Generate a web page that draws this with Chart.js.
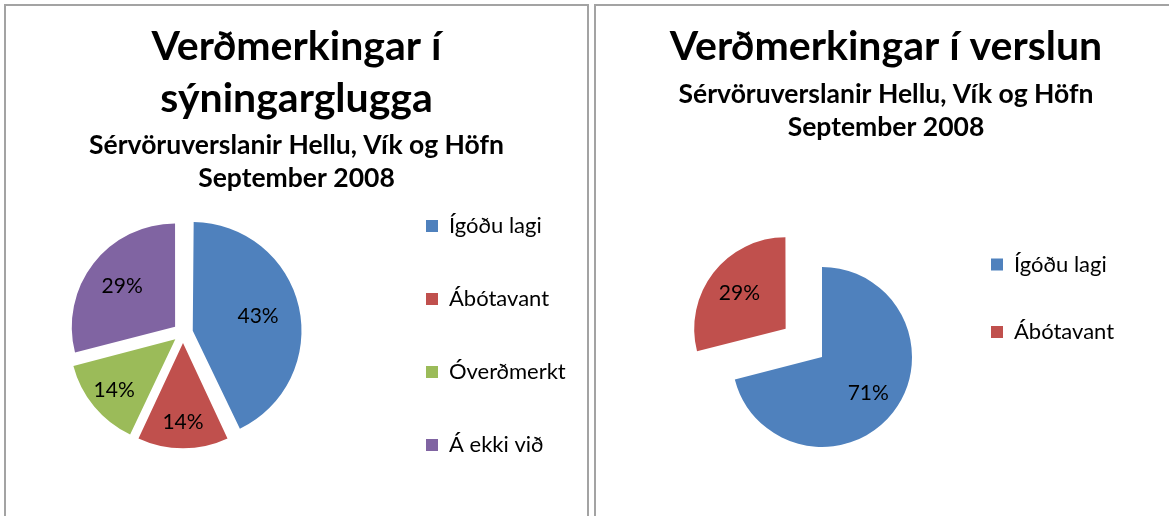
<!DOCTYPE html>
<html lang="is">
<head>
<meta charset="utf-8">
<title>Verðmerkingar</title>
<script src="https://cdn.jsdelivr.net/npm/chart.js@4.4.1/dist/chart.umd.min.js"></script>
<style>
  html, body { margin: 0; padding: 0; background: #fff; overflow: hidden; }
  body { width: 1169px; height: 516px; position: relative; }
  .panel { position: absolute; top: 4px; height: 540px; border: 2px solid #a3a3a3; overflow: hidden; background: #fff; }
  #p-left  { left: 4px; width: 581px; }
  #p-right { left: 594px; width: 620px; border-right: none; }
  .panel canvas { position: absolute; top: 0; }
  #windowChart { left: -15px; }
  #storeChart  { left: 0; }
</style>
</head>
<body>
<div class="panel" id="p-left"><canvas id="windowChart" width="611" height="520"></canvas></div>
<div class="panel" id="p-right"><canvas id="storeChart" width="573" height="520"></canvas></div>

<script>
// ── Data ──────────────────────────────────────────────────────────────────────
const leftTitle  = ['Verðmerkingar í', 'sýningarglugga'];
const rightTitle = 'Verðmerkingar í verslun';
const subTitle   = ['Sérvöruverslanir Hellu, Vík og Höfn', 'September 2008'];

const windowLabels = ['Ígóðu lagi', 'Ábótavant', 'Óverðmerkt', 'Á ekki við'];
const windowShares = [43, 14, 14, 29];   // % of shops
const storeLabels  = ['Ígóðu lagi', 'Ábótavant'];
const storeShares  = [71, 29];

const COLORS = ['#4F81BD', '#C0504D', '#9BBB59', '#8064A2'];
const FONT   = 'Lato, "Open Sans", sans-serif';

// ── Plugins ───────────────────────────────────────────────────────────────────
// "43%"-style labels inside each slice (Excel puts small slices a bit further out)
const sliceLabels = {
  id: 'sliceLabels',
  afterDatasetsDraw(chart) {
    const { ctx } = chart;
    const ds = chart.data.datasets[0];
    chart.getDatasetMeta(0).data.forEach((arc, i) => {
      const { x, y, startAngle, endAngle, outerRadius } =
        arc.getProps(['x', 'y', 'startAngle', 'endAngle', 'outerRadius'], true);
      const mid   = (startAngle + endAngle) / 2;
      const share = (endAngle - startAngle) / (2 * Math.PI);
      const dist  = (arc.options.offset || 0) / 4 + outerRadius * (share < 0.2 ? 0.77 : 0.65);
      ctx.save();
      ctx.font = `21px ${FONT}`;
      ctx.fillStyle = '#000';
      ctx.textAlign = 'center';
      ctx.textBaseline = 'middle';
      ctx.fillText(ds.data[i] + '%', x + Math.cos(mid) * dist, y + Math.sin(mid) * dist);
      ctx.restore();
    });
  },
};

// legend reserves a fixed width in the layout (so the title centres over the
// whole chart like in Excel); after layout the legend and the title boxes are
// widened so nothing gets clipped or squeezed
function legendWidth(w) {
  return {
    id: 'legendWidth',
    beforeInit(chart) {
      const fit = chart.legend.fit;
      chart.legend.fit = function () {
        fit.call(this);
        this.width = w;
      };
    },
    afterLayout(chart) {
      const lg = chart.legend;
      lg.right = chart.width;
      lg.width = lg.right - lg.left;
      chart.boxes.forEach(b => {
        if (b.position !== 'top') return;
        const c = (b.left + b.right) / 2;
        b.left  = c - chart.width / 2;
        b.right = c + chart.width / 2;
        b.width = chart.width;
      });
    },
  };
}

function _opts(title, titlePad, subPad, layoutPad, legendPad) {
  return {
    responsive: false,
    animation: false,
    events: [],
    layout: { padding: layoutPad },
    plugins: {
      title: {
        display: true, text: title, color: '#000',
        font: { family: FONT, size: 41, weight: 'bold', lineHeight: 52 / 41 },
        padding: titlePad,
      },
      subtitle: {
        display: true, text: subTitle, color: '#000',
        font: { family: FONT, size: 26.5, weight: 'bold', lineHeight: 33 / 26.5 },
        padding: subPad,
      },
      legend: {
        position: 'right', align: 'end',
        labels: { color: '#000', font: { family: FONT, size: 22 }, boxWidth: 12, boxHeight: 12, padding: legendPad },
      },
      tooltip: { enabled: false },
    },
  };
}

// ── Sýningargluggi (left) ─────────────────────────────────────────────────────
new Chart(document.getElementById('windowChart'), {
  type: 'pie',
  data: {
    labels: windowLabels,
    datasets: [{
      data:            windowShares,
      backgroundColor: COLORS,
      borderWidth:     0,
      offset:          40,
      radius:          103,
      cutout:          '0%',
    }],
  },
  options: _opts(leftTitle,
    { top: 15.1, bottom: 0 },
    { top: 4.3, bottom: -36.4 },
    { left: 0, right: 0, top: 0, bottom: 19 },
    51),
  plugins: [sliceLabels, legendWidth(227)],
});

// ── Verslun (right) ───────────────────────────────────────────────────────────
new Chart(document.getElementById('storeChart'), {
  type: 'pie',
  data: {
    labels: storeLabels,
    datasets: [{
      data:            storeShares,
      backgroundColor: COLORS.slice(0, 2),
      borderWidth:     0,
      offset:          [0, 184],
      radius:          90,
      cutout:          '0%',
    }],
  },
  options: _opts(rightTitle,
    { top: 15.1, bottom: 0 },
    { top: 4.4, bottom: 182 },
    { left: 102.5, right: 95.5, top: 0, bottom: 137.5 },
    45.5),
  plugins: [sliceLabels, legendWidth(128)],
});
</script>
</body>
</html>
